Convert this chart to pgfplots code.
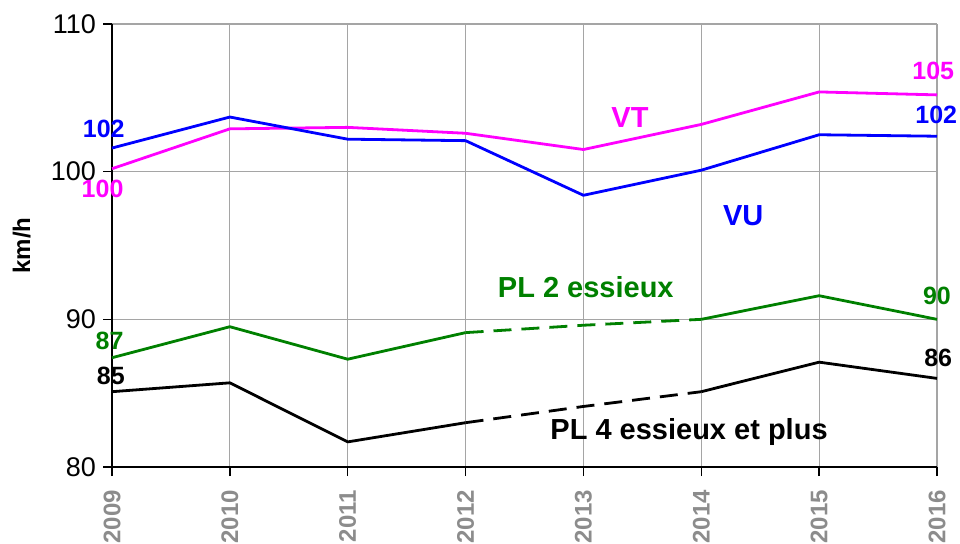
\documentclass[border=0pt]{standalone}
\usepackage{pgfplots}
\pgfplotsset{compat=1.18}
\usepackage{fontspec}
\setmainfont{Liberation Sans}
\usetikzlibrary{calc}
\definecolor{vt}{RGB}{255,0,255}
\definecolor{vu}{RGB}{0,0,255}
\definecolor{pltwo}{RGB}{0,128,0}
\definecolor{gridgray}{RGB}{165,165,165}
\definecolor{ticklab}{RGB}{140,140,140}
\begin{document}
\begin{tikzpicture}
\begin{axis}[
  scale only axis, width=412.5bp, height=221.5bp,
  xmin=2009, xmax=2016, ymin=80, ymax=110,
  xtick={2009,2010,2011,2012,2013,2014,2015,2016},
  ytick={80,90,100,110},
  axis x line*=bottom, axis y line*=left,
  axis line style={black, line width=0.7bp},
  grid=major, major grid style={gridgray, line width=0.6bp},
  tick align=outside, major tick length=4.5bp,
  tick style={black, line width=0.7bp},
  /pgf/number format/assume math mode=true,
  /pgf/number format/set thousands separator={},
  yticklabel style={font=\fontsize{13.5bp}{15bp}\selectfont, anchor=east},
  xticklabel style={font=\bfseries\fontsize{12bp}{14bp}\selectfont, rotate=90, anchor=east, text=ticklab},
  xticklabel shift=3.5bp,
  ylabel={km/h},
  ylabel style={font=\bfseries\fontsize{12bp}{14bp}\selectfont, at={(axis description cs:-0.1094,0.5)}, anchor=center},
  clip=false,
  every axis plot/.append style={line width=1.4bp, line join=round},
]
% VT
\addplot[vt] coordinates {(2009,100.2) (2010,102.9) (2011,103.0) (2012,102.6) (2013,101.5) (2014,103.2) (2015,105.4) (2016,105.2)};
% VU
\addplot[vu] coordinates {(2009,101.6) (2010,103.7) (2011,102.2) (2012,102.1) (2013,98.4) (2014,100.1) (2015,102.5) (2016,102.4)};
% PL 2 essieux
\addplot[pltwo] coordinates {(2009,87.4) (2010,89.5) (2011,87.3) (2012,89.1)};
\addplot[pltwo, dash pattern=on 9bp off 5bp] coordinates {(2012,89.1) (2013,89.6) (2014,90.0)};
\addplot[pltwo] coordinates {(2014,90.0) (2015,91.6) (2016,90.0)};
% PL 4 essieux et plus
\addplot[black] coordinates {(2009,85.1) (2010,85.7) (2011,81.7) (2012,83.0)};
\addplot[black, dash pattern=on 9bp off 5bp] coordinates {(2012,83.0) (2013,84.1) (2014,85.1)};
\addplot[black] coordinates {(2014,85.1) (2015,87.1) (2016,86.0)};
% labels
\begin{scope}[every node/.style={font=\bfseries\fontsize{12.5bp}{14bp}\selectfont, anchor=base, inner sep=0pt}]
\node[text=vu] at (axis cs:2008.93,102.34) {102};
\node[text=vt] at (axis cs:2008.92,98.23) {100};
\node[text=pltwo] at (axis cs:2008.98,87.93) {87};
\node[text=black] at (axis cs:2008.99,85.58) {85};
\node[text=vt] at (axis cs:2015.968,106.22) {105};
\node[text=vu] at (axis cs:2015.994,103.28) {102};
\node[text=pltwo] at (axis cs:2016.0,90.98) {90};
\node[text=black] at (axis cs:2016.01,86.82) {86};
\end{scope}
\begin{scope}[every node/.style={font=\bfseries\fontsize{14.5bp}{16bp}\selectfont, anchor=base, inner sep=0pt}]
\node[text=vt] at (axis cs:2013.395,102.97) {VT};
\node[text=vu] at (axis cs:2014.356,96.34) {VU};
\node[text=pltwo] at (axis cs:2013.02,91.46) {PL 2 essieux};
\node[text=black] at (axis cs:2013.896,81.89) {PL 4 essieux et plus};
\end{scope}
\end{axis}
\pgfresetboundingbox
\useasboundingbox ($(current axis.south west)+(-56bp,-38.5bp)$) rectangle ($(current axis.north east)+(11.5bp,12bp)$);
\end{tikzpicture}
\end{document}
